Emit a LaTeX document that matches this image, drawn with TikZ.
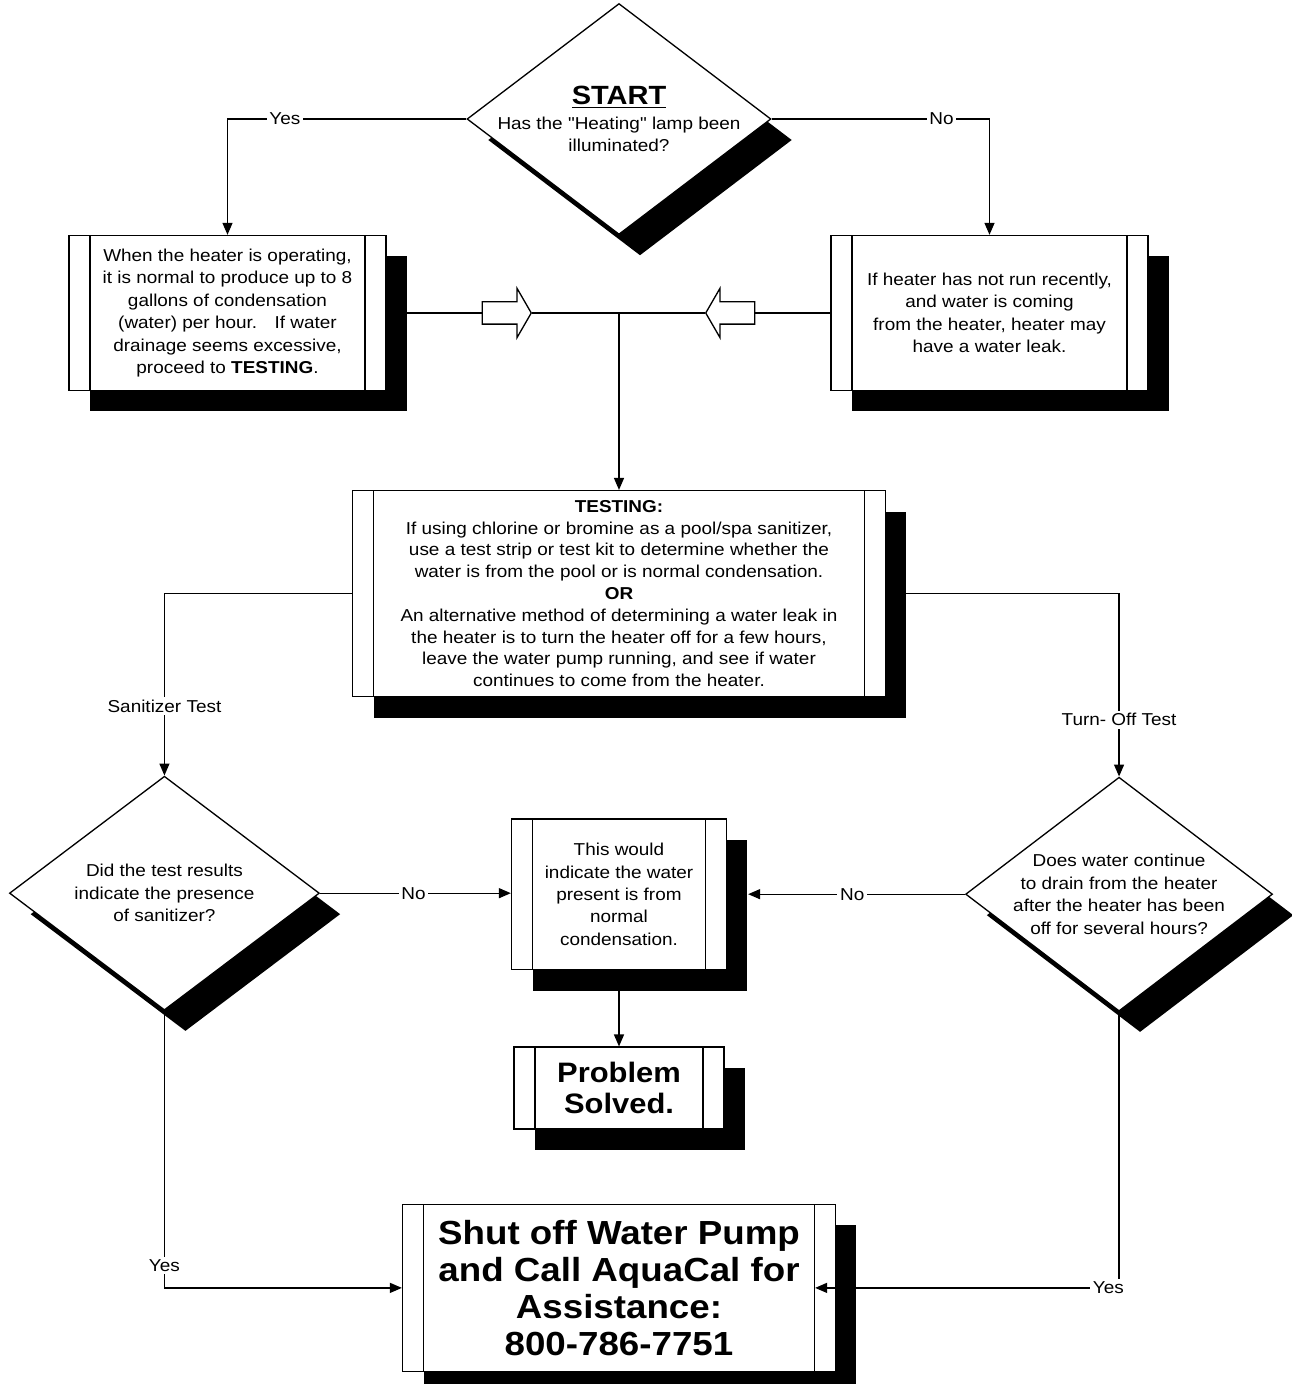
\documentclass[tikz,border=0pt]{standalone}
\usepackage{fontspec}
\setmainfont{Liberation Sans}[FakeStretch=1.1, Ligatures=TeXOff]
\usepackage{tikz}
\usetikzlibrary{arrows.meta, positioning, shapes.geometric, shapes.arrows, shadows}
\newcommand{\bodysize}{\fontsize{9.8}{12.8}\selectfont}

\begin{document}
\begin{tikzpicture}[
  x=0.02cm, y=0.02cm,
  every node/.style={font=\bodysize},
  boxshadow/.style={drop shadow={shadow xshift=0.42cm, shadow yshift=-0.42cm,
                    fill=black, opacity=1}},
  procbox/.style={draw, fill=white, line width=0.75pt, align=center,
                  inner sep=0pt, boxshadow,
                  path picture={
                    \draw[line width=0.75pt]
                      ([xshift=0.42cm]path picture bounding box.north west) --
                      ([xshift=0.42cm]path picture bounding box.south west)
                      ([xshift=-0.42cm]path picture bounding box.north east) --
                      ([xshift=-0.42cm]path picture bounding box.south east);}},
  decision/.style={diamond, draw, fill=white, line width=0.75pt,
                   inner sep=0pt, boxshadow,
                   minimum width=6.2cm, minimum height=4.68cm},
  blockarrow/.style={single arrow, draw, fill=white, line width=0.75pt,
                     inner sep=0pt, inner ysep=0.21cm, minimum height=0.98cm,
                     minimum width=0.96cm, single arrow head extend=0.27cm,
                     single arrow tip angle=120},
  arrow/.style={-{Triangle[length=0.24cm, width=0.2cm]}, line width=0.75pt},
  line/.style={line width=0.75pt},
  lb/.style={fill=white, inner sep=1.5pt}
]
\useasboundingbox (0,0) rectangle (1292,-1384);

% ── Nodes ────────────────────────────────────────────────────────────────────
\node[decision, minimum width=6.08cm, minimum height=4.62cm,
      label={[align=center]center:{\fontsize{15}{18}\selectfont\bfseries\underline{START}}\\[1pt]
        Has the "Heating" lamp been\\illuminated?}]
  (start) at (619,-119) {};

\coordinate[below=3.88cm of start.center] (junction);

\node[blockarrow, anchor=tip] (larrow) at ([xshift=-1.74cm]junction) {};
\node[blockarrow, shape border rotate=180, anchor=tip] (rarrow)
  at ([xshift=1.72cm]junction) {};

\node[procbox, minimum width=6.34cm, minimum height=3.1cm,
      left=1.9cm of larrow.tail] (yesbox)
  {When the heater is operating,\\
   it is normal to produce up to 8\\
   gallons of condensation\\
   (water) per hour.~~ If water\\
   drainage seems excessive,\\
   proceed to \textbf{TESTING}.};

\node[procbox, minimum width=6.34cm, minimum height=3.1cm,
      right=1.5cm of rarrow.tail] (nobox)
  {If heater has not run recently,\\
   and water is coming\\
   from the heater, heater may\\
   have a water leak.};

\node[procbox, minimum width=10.66cm, minimum height=4.12cm,
      below=3.54cm of junction, font=\fontsize{9.8}{12.4}\selectfont] (testbox)
  {\textbf{TESTING:}\\
   If using chlorine or bromine as a pool/spa sanitizer,\\
   use a test strip or test kit to determine whether the\\
   water is from the pool or is normal condensation.\\
   \textbf{OR}\\
   An alternative method of determining a water leak in\\
   the heater is to turn the heater off for a few hours,\\
   leave the water pump running, and see if water\\
   continues to come from the heater.};

\node[decision, below=3.64cm of testbox.west, xshift=-3.75cm,
      label={[align=center]center:Did the test results\\
        indicate the presence\\of sanitizer?}]
  (sanitq) {};

\node[decision, minimum width=6.14cm, below=3.66cm of testbox.east, xshift=4.66cm,
      label={[align=center]center:Does water continue\\
        to drain from the heater\\after the heater has been\\
        off for several hours?}]
  (drainq) {};

\node[procbox, minimum width=4.3cm, minimum height=3.02cm,
      below=2.42cm of testbox] (condbox)
  {This would\\
   indicate the water\\
   present is from\\
   normal\\
   condensation.};

\node[procbox, minimum width=4.2cm, minimum height=1.64cm,
      below=1.52cm of condbox, font=\fontsize{16}{17.5}\selectfont\bfseries] (solvedbox)
  {Problem\\Solved.};

\node[procbox, minimum width=8.66cm, minimum height=3.34cm,
      below=1.48cm of solvedbox, font=\fontsize{19}{21}\selectfont\bfseries] (callbox)
  {Shut off Water Pump\\
   and Call AquaCal for\\
   Assistance:\\
   800-786-7751};

% ── Arrows ────────────────────────────────────────────────────────────────────
% Start -> Yes / No
\draw[arrow]
  (start.west) -- node[lb, pos=0.76]{Yes}
  (start.west -| yesbox.north) -- (yesbox.north);

\draw[arrow]
  (start.east) -- node[lb, pos=0.78]{No}
  (start.east -| nobox.north) -- (nobox.north);

% Both boxes -> testing
\draw[line] (yesbox.east) -- (larrow.tail);
\draw[line] (larrow.tip) -- (junction);
\draw[line] (nobox.west) -- (rarrow.tail);
\draw[line] (rarrow.tip) -- (junction);
\draw[arrow] (junction) -- (testbox.north);

% Testing -> the two tests
\draw[arrow]
  (testbox.west) -- (testbox.west -| sanitq.north) --
  node[lb, pos=0.62]{Sanitizer Test} (sanitq.north);

\draw[arrow]
  (testbox.east) -- (testbox.east -| drainq.north) --
  node[lb, pos=0.69]{Turn- Off Test} (drainq.north);

% No -> condensation (right one stops at the shadow)
\draw[arrow]
  (sanitq.east) -- node[lb, pos=0.49]{No} (sanitq.east -| condbox.west);

\draw[arrow]
  (drainq.west) -- node[lb, pos=0.52]{No}
  ([xshift=0.42cm]drainq.west -| condbox.east);

\draw[arrow] (condbox.south) -- (solvedbox.north);

% Yes -> call AquaCal
\draw[arrow]
  (sanitq.south) -- node[lb, pos=0.92]{Yes}
  (sanitq.south |- callbox.west) -- (callbox.west);

\draw[arrow]
  (drainq.south) -- (drainq.south |- callbox.east) --
  node[lb, pos=0.035]{Yes} ([xshift=-0.42cm]callbox.east);

\end{tikzpicture}
\end{document}
